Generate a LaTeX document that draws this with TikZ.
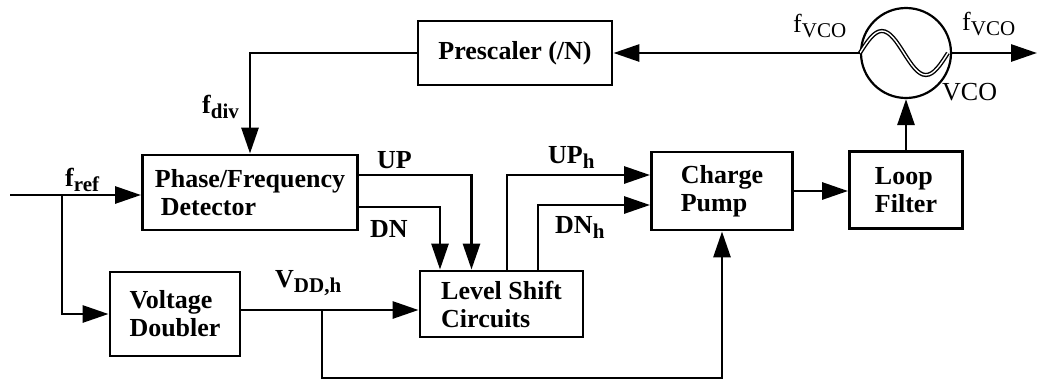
\documentclass[tikz,border=0pt]{standalone}
\usepackage{fontspec}
\setmainfont{Liberation Serif}
\usetikzlibrary{arrows.meta}
% lowered, slightly smaller subscript
\newcommand\sbs[1]{\raisebox{-5pt}{\fontsize{21}{21}\selectfont #1}}

\begin{document}
\begin{tikzpicture}[x=1pt,y=-1pt,
  wire/.style={line width=2.9pt},
  arr/.style={wire,-{Triangle[length=26pt,width=17pt]}},
  block/.style={draw,line width=2.9pt,inner sep=0pt,align=left,
    font=\fontsize{26}{28}\selectfont\bfseries},
  lbl/.style={inner sep=0pt,anchor=base west,font=\fontsize{26}{28}\selectfont\bfseries},
  lblr/.style={inner sep=0pt,anchor=base west,font=\fontsize{26}{28}\selectfont}]
\useasboundingbox (0,0) rectangle (1039,381);

% blocks
\node[block,minimum width=194pt,minimum height=64pt] (pres) at (515,53) {Prescaler (/N)};
\node[block,minimum width=215pt,minimum height=75pt] (pfd) at (250,192.5) {Phase/Frequency\\\hspace*{6pt}Detector};
\node[block,minimum width=130pt,minimum height=84pt] (vd) at (175,314) {Voltage\\Doubler};
\node[block,minimum width=163pt,minimum height=66pt] (ls) at (501.5,304) {Level Shift\\Circuits};
\node[block,minimum width=141pt,minimum height=78pt] (cp) at (722,191) {Charge\\Pump};
\node[block,minimum width=113pt,minimum height=77pt] (lf) at (906,190) {Loop\\Filter};
\node[draw,circle,line width=2.2pt,minimum size=90pt,inner sep=0pt] (vco) at (906,53) {};

% oscillator symbol
\draw[double,double distance=1.4pt,line width=1.4pt]
  (vco.west) sin ++(22,-22) cos ++(22,22) sin ++(22,22) cos ++(22,-22);

% free ends and branch points
\coordinate (in) at (10,195);
\coordinate (br) at (62,195);
\coordinate (vdd) at (322,310);
\coordinate (bot) at (322,378);
\coordinate (out) at (1037,53);

% connectors
\draw[arr] (vco.west) -- (pres.east);
\draw[arr] (pres.west) -| (pfd.north);
\draw[arr] (in) -- (in -| pfd.west);
\draw[arr] (br) |- (vd.west);
\draw[arr] ([yshift=17.5pt]pfd.east) -| ([xshift=-30pt]ls.north);
\draw[arr] ([yshift=-14.5pt]pfd.east) -| ([xshift=-61.5pt]ls.north);
\draw[arr] ([xshift=5.5pt]ls.north) |- ([yshift=16pt]cp.west);
\draw[arr] ([xshift=36.5pt]ls.north) |- ([yshift=-14pt]cp.west);
\draw[arr] (vd.east |- vdd) -- (vdd -| ls.west);
\draw[arr] (vdd) -- (bot) -| (cp.south);
\draw[arr] (cp.east) -- (cp.east -| lf.west);
\draw[arr] (lf.north) -- (vco.south);
\draw[arr] (vco.east) -- (out);

% signal labels
\node[lbl] (lref) at (65,186) {f\sbs{ref}};
\node[lbl] (ldiv) at (202,113) {f\sbs{div}};
\node[lbl] (lup) at (377,168) {UP};
\node[lbl] (ldn) at (370,237) {DN};
\node[lbl] (luph) at (548,163) {UP\sbs{h}};
\node[lbl] (ldnh) at (555,233) {DN\sbs{h}};
\node[lbl] (lvdd) at (275,287) {V\sbs{DD,h}};
\node[lblr] (lfv1) at (793,32) {f\sbs{VCO}};
\node[lblr] (lfv2) at (962,30) {f\sbs{VCO}};
\node[lblr] (lvco) at (942,100) {VCO};
\end{tikzpicture}
\end{document}
